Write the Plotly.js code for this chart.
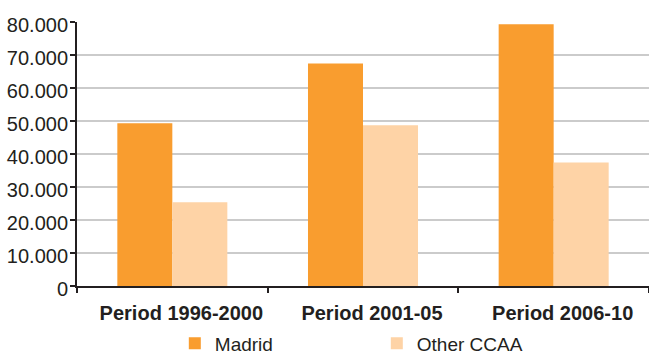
<!DOCTYPE html>
<html>
<head>
<meta charset="utf-8">
<script src="https://cdn.plot.ly/plotly-3.0.1.min.js"></script>
<style>html,body{margin:0;padding:0;background:#fff}#chart{width:649px;height:354px}</style>
</head>
<body>
<div id="chart"></div>
<script>
const categories = ["Period 1996-2000", "Period 2001-05", "Period 2006-10"];
const madrid = [49300, 67400, 79300];
const otherCCAA = [25400, 48700, 37400];
const yTicks = [0, 10000, 20000, 30000, 40000, 50000, 60000, 70000, 80000];

const textColor = "#231f20";
const fontFamily = "'Liberation Sans', Arial, Helvetica, sans-serif";

const data = [
  {type: "bar", name: "Madrid", x: categories, y: madrid,
   marker: {color: "#f99d2f", line: {width: 0}}, hoverinfo: "none"},
  {type: "bar", name: "Other CCAA", x: categories, y: otherCCAA,
   marker: {color: "#fed3a6", line: {width: 0}}, hoverinfo: "none"}
];

const layout = {
  width: 649, height: 354,
  margin: {l: 77, r: 0, t: 22, b: 68, pad: 0, autoexpand: false},
  paper_bgcolor: "#ffffff", plot_bgcolor: "#ffffff",
  separators: ",.",
  font: {family: fontFamily, color: textColor, size: 19},
  barmode: "group", bargap: 0.423, bargroupgap: 0,
  showlegend: true,
  legend: {orientation: "h", x: 0.171, xanchor: "left", y: -0.145, yanchor: "top",
           entrywidth: 157, entrywidthmode: "pixels",
           font: {family: fontFamily, size: 19, color: textColor},
           bgcolor: "rgba(0,0,0,0)", borderwidth: 0, traceorder: "normal"},
  xaxis: {type: "category", showgrid: false, zeroline: false,
          showline: true, linecolor: textColor, linewidth: 2,
          ticks: "outside", tickson: "boundaries", ticklen: 5, tickwidth: 2, tickcolor: textColor,
          tickfont: {family: fontFamily, size: 20, color: textColor, weight: "bold"},
          ticklabelstandoff: 8, ticklabelshift: 9, automargin: false, fixedrange: true},
  yaxis: {range: [0, 80000], tickvals: yTicks, tickformat: ",d",
          showgrid: true, gridcolor: "#cbcbcb", gridwidth: 1.5,
          zeroline: false, showline: true, linecolor: textColor, linewidth: 2,
          ticks: "outside", ticklen: 5, tickwidth: 2, tickcolor: textColor,
          tickfont: {family: fontFamily, size: 20, color: textColor},
          ticklabelstandoff: -2, ticklabelshift: 3,
          automargin: false, fixedrange: true}
};

Plotly.newPlot("chart", data, layout, {staticPlot: true, displayModeBar: false});
</script>
</body>
</html>
